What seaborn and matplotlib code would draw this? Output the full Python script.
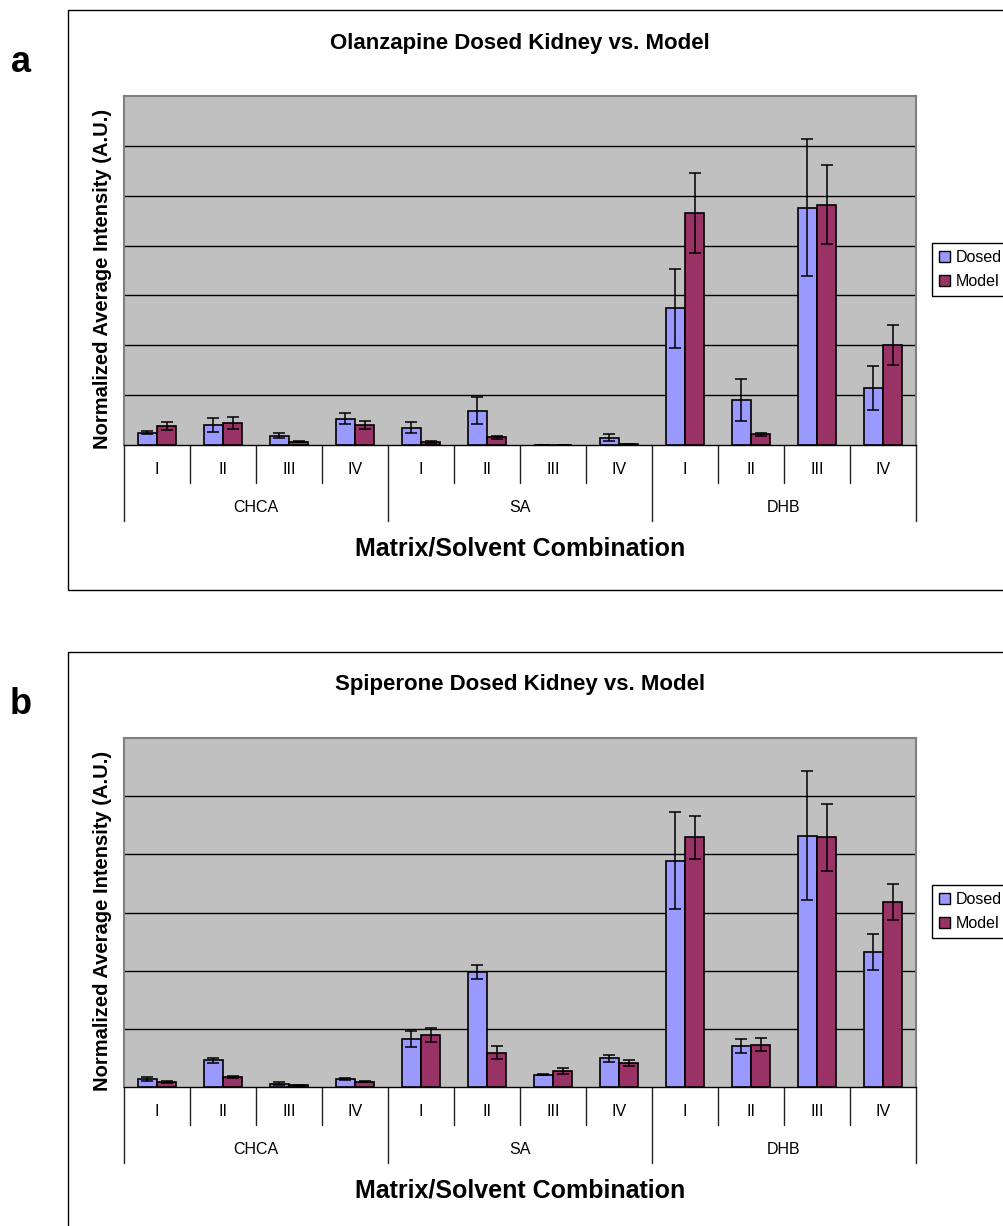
import numpy as np
import pandas as pd
import matplotlib.pyplot as plt
import seaborn as sns
import matplotlib.transforms as mtransforms
from matplotlib.patches import Rectangle, Patch

# categories
matrices = ["CHCA", "SA", "DHB"]
solvents = ["I", "II", "III", "IV"]
series = ["Dosed", "Model"]

# panel a: Olanzapine (values in gridline units)
olz_dosed = [0.25, 0.41, 0.19, 0.53, 0.35, 0.69, 0.01, 0.15, 2.74, 0.91, 4.76, 1.14]
olz_dosed_err = [0.03, 0.14, 0.05, 0.11, 0.11, 0.27, 0.0, 0.07, 0.80, 0.42, 1.37, 0.44]
olz_model = [0.38, 0.44, 0.07, 0.41, 0.07, 0.16, 0.01, 0.02, 4.66, 0.22, 4.82, 2.01]
olz_model_err = [0.075, 0.115, 0.01, 0.08, 0.02, 0.03, 0.0, 0.01, 0.80, 0.03, 0.79, 0.40]

# panel b: Spiperone
spi_dosed = [0.14, 0.46, 0.06, 0.14, 0.83, 1.97, 0.21, 0.49, 3.89, 0.70, 4.32, 2.32]
spi_dosed_err = [0.03, 0.04, 0.02, 0.02, 0.14, 0.12, 0.01, 0.066, 0.83, 0.12, 1.11, 0.31]
spi_model = [0.09, 0.17, 0.03, 0.09, 0.89, 0.59, 0.27, 0.41, 4.29, 0.73, 4.29, 3.18]
spi_model_err = [0.02, 0.02, 0.01, 0.01, 0.12, 0.11, 0.05, 0.05, 0.37, 0.11, 0.58, 0.31]

dosed_color = "#9999FF"
model_color = "#993366"

W, H = 1004, 1226

sns.set_theme(style="white")
plt.rcParams['font.family'] = ['Liberation Sans', 'DejaVu Sans']
plt.rcParams['text.color'] = 'black'

fig = plt.figure(figsize=(W / 100, H / 100), dpi=100)


def fx(x):
    return x / W


def fy(y):
    return 1 - y / H


def draw_panel(top, letter, title, dosed, dosed_err, model, model_err, ymax):
    left, right, height = 124, 916, 349
    bottom = top + height
    ax = fig.add_axes([fx(left), fy(bottom), (right - left) / W, height / H])

    cats = [f"{m} {s}" for m in matrices for s in solvents]
    df = pd.DataFrame({
        "combo": cats * 2,
        "series": ["Dosed"] * len(cats) + ["Model"] * len(cats),
        "value": list(dosed) + list(model),
    })
    sns.barplot(data=df, x="combo", y="value", hue="series", order=cats,
                hue_order=series, palette=[dosed_color, model_color],
                saturation=1, width=0.59, edgecolor="black", linewidth=1.2,
                errorbar=None, legend=False, ax=ax, zorder=3)

    for bars, errs in zip(ax.containers, [dosed_err, model_err]):
        xs = [b.get_x() + b.get_width() / 2 for b in bars]
        hs = [b.get_height() for b in bars]
        ax.errorbar(xs, hs, yerr=errs, fmt="none", ecolor="black",
                    elinewidth=1.1, capsize=4.5, capthick=1.1, zorder=4)

    ax.set_facecolor("#C0C0C0")
    ax.set_xlim(-0.5, len(cats) - 0.5)
    ax.set_ylim(0, ymax)
    ax.set_yticks(range(1, ymax))
    ax.yaxis.grid(True, color="black", linewidth=1)
    ax.set_axisbelow(True)
    ax.tick_params(left=False, labelleft=False, bottom=False, labelbottom=False)
    ax.set_xlabel("")
    ax.set_ylabel("")
    for side in ["left", "top", "right"]:
        ax.spines[side].set_color("#808080")
        ax.spines[side].set_linewidth(1.5)
    ax.spines["bottom"].set_color("black")
    ax.spines["bottom"].set_linewidth(1)

    # two-level category axis
    tr = ax.get_xaxis_transform()
    for i in range(len(cats) + 1):
        xb = i - 0.5
        depth = 76 if i % 4 == 0 else 38
        ax.plot([xb, xb], [0, -depth / height], transform=tr, color="#222222",
                lw=1, clip_on=False)
    lab_tr = mtransforms.offset_copy(tr, fig=fig, y=-24, units="dots")
    for i, c in enumerate(cats):
        ax.text(i, 0, c.split()[1], transform=lab_tr, ha="center", va="center",
                fontsize=11.5)
    grp_tr = mtransforms.offset_copy(tr, fig=fig, y=-62, units="dots")
    for g, m in enumerate(matrices):
        ax.text(g * 4 + 1.5, 0, m, transform=grp_tr, ha="center", va="center",
                fontsize=11.5)

    # outer frame of the chart
    fig.add_artist(Rectangle((fx(68), fy(top - 86 + 580)), fx(1010) - fx(68),
                             580 / H, transform=fig.transFigure, fill=False,
                             edgecolor="black", lw=1, clip_on=False))

    fig.text(fx(520), fy(top - 53), title, ha="center", va="center",
             fontsize=16, fontweight="bold")
    fig.text(fx(520), fy(bottom + 103), "Matrix/Solvent Combination",
             ha="center", va="center", fontsize=18, fontweight="bold")
    fig.text(fx(103), fy(top + height / 2 + 8), "Normalized Average Intensity (A.U.)",
             ha="center", va="center", rotation=90, fontsize=14.5, fontweight="bold")
    fig.text(fx(21), fy(top - 33), letter, ha="center", va="center",
             fontsize=26, fontweight="bold")

    handles = [Patch(facecolor=dosed_color, edgecolor="black", lw=1),
               Patch(facecolor=model_color, edgecolor="black", lw=1)]
    leg = fig.legend(handles, series, loc="upper left",
                     bbox_to_anchor=(fx(932), fy(top + 147)),
                     bbox_transform=fig.transFigure, borderaxespad=0,
                     fontsize=11.5, handlelength=0.65, handleheight=0.65,
                     handletextpad=0.4, labelspacing=0.55, borderpad=0.45,
                     fancybox=False, framealpha=1, edgecolor="black")
    leg.get_frame().set_linewidth(1)
    for t in leg.get_texts():
        t.set_color("black")
    return ax


draw_panel(96, "a", "Olanzapine Dosed Kidney vs. Model",
           olz_dosed, olz_dosed_err, olz_model, olz_model_err, 7)
draw_panel(738, "b", "Spiperone Dosed Kidney vs. Model",
           spi_dosed, spi_dosed_err, spi_model, spi_model_err, 6)

fig.savefig("out.png", dpi=100)
